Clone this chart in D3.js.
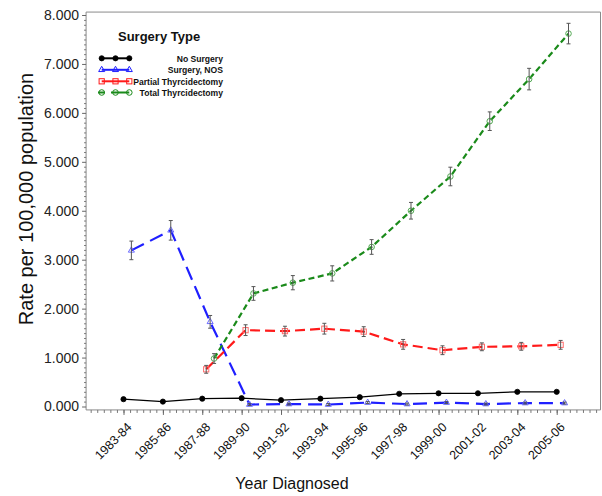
<!DOCTYPE html>
<html><head><meta charset="utf-8">
<script src="https://cdn.jsdelivr.net/npm/d3@7"></script>
<style>body{margin:0;background:#fff}svg{display:block;font-family:"Liberation Sans",Arial,sans-serif}</style>
</head><body><svg id="c" width="602" height="496"></svg>
<script>
const categories = ["1983-84","1985-86","1987-88","1989-90","1991-92","1993-94","1995-96","1997-98","1999-00","2001-02","2003-04","2005-06"];
const startYears = [1983,1985,1987,1989,1991,1993,1995,1997,1999,2001,2003,2005];
const yTicks = [0,1,2,3,4,5,6,7,8];
const seriesNames = ["No Surgery","Surgery, NOS","Partial Thyrcidectomy","Total Thyrcidectomy"];
const noSurgery   = [0.15,0.10,0.16,0.17,0.13,0.16,0.19,0.26,0.27,0.27,0.30,0.30];
const surgeryNOS  = [3.19,3.60,1.73,0.04,0.05,0.04,0.08,0.05,0.08,0.05,0.07,0.07];
const partialThy  = [null,null,0.76,1.56,1.54,1.59,1.53,1.27,1.15,1.22,1.23,1.26];
const totalThy    = [null,null,0.98,2.31,2.53,2.72,3.26,4.00,4.70,5.83,6.69,7.62];
const noSurgeryErr  = [0,0,0,0,0,0,0,0,0,0,0,0];
const surgeryNOSErr = [0.19,0.20,0.13,0.02,0.02,0.02,0.02,0.02,0.02,0.02,0.02,0.02];
const partialThyErr = [null,null,0.08,0.11,0.10,0.11,0.10,0.10,0.09,0.08,0.08,0.09];
const totalThyErr   = [null,null,0.10,0.14,0.145,0.155,0.15,0.17,0.19,0.19,0.22,0.21];

const svg = d3.select("#c");
const x = d3.scaleLinear().domain([1983,2005]).range([123.5,556.7]);
const y = d3.scaleLinear().domain([0,8]).range([406.5,15]);
const fLeft = x(1981.1), fRight = 600.5, fTop = y(8.06), fBottom = y(-0.07);

// frame
const frameCol = "#8a8a8a";
svg.append("line").attr("x1",fLeft).attr("x2",fRight).attr("y1",fTop).attr("y2",fTop).attr("stroke",frameCol);
svg.append("line").attr("x1",fRight).attr("x2",fRight).attr("y1",fTop).attr("y2",fBottom).attr("stroke",frameCol);
svg.append("line").attr("x1",fLeft).attr("x2",fLeft).attr("y1",fTop).attr("y2",fBottom).attr("stroke",frameCol);
svg.append("line").attr("x1",fLeft).attr("x2",fRight).attr("y1",fBottom).attr("y2",fBottom).attr("stroke",frameCol);

// y axis
const yMinor = d3.range(0, 81).map(d=>d/10).filter((d,i)=>i%10!==0);
const gyMinor = svg.append("g").attr("transform",`translate(${fLeft},0)`)
  .call(d3.axisLeft(y).tickValues(yMinor).tickSize(2).tickFormat(""));
gyMinor.select(".domain").remove();
gyMinor.selectAll("line").attr("stroke","#777");
const gy = svg.append("g").attr("transform",`translate(${fLeft},0)`)
  .call(d3.axisLeft(y).tickValues(yTicks).tickSize(4).tickPadding(3).tickFormat(d3.format(".3f")));
gy.select(".domain").remove();
gy.attr("font-size",null).attr("font-family",null);
gy.selectAll("line").attr("stroke","#666");
gy.selectAll("text").style("font-size","14px").attr("fill","#222").style("font-family","'Liberation Sans', Arial, sans-serif");

// x axis
const xMinor = d3.range(0, 80).map(k=>1981+k/3).filter(d=>x(d)>fLeft+1 && x(d)<fRight-1);
const gxMinor = svg.append("g").attr("transform",`translate(0,${fBottom})`)
  .call(d3.axisBottom(x).tickValues(xMinor).tickSize(3).tickFormat(""));
gxMinor.select(".domain").remove();
gxMinor.selectAll("line").attr("stroke","#777");
const gx = svg.append("g").attr("transform",`translate(0,${fBottom})`)
  .call(d3.axisBottom(x).tickValues(startYears).tickSize(5).tickFormat((d,i)=>categories[i]));
gx.select(".domain").remove();
gx.attr("font-size",null).attr("font-family",null);
gx.selectAll("line").attr("stroke","#666");
gx.selectAll("text").style("font-size","12.5px").attr("fill","#111")
  .style("font-family","'Liberation Sans', Arial, sans-serif")
  .attr("text-anchor","end").attr("dy",null).attr("y",null).attr("x",null)
  .attr("transform","translate(8.5,18) rotate(-45)");

// axis titles
svg.append("text").attr("x",292).attr("y",489).attr("text-anchor","middle")
  .style("font-size","16px").attr("fill","#111").text("Year Diagnosed");
svg.append("text").attr("transform","translate(33,199) rotate(-90)").attr("text-anchor","middle")
  .style("font-size","20px").attr("fill","#111").text("Rate per 100,000 population");

// series
const series = [
  {name:seriesNames[0], vals:noSurgery, err:noSurgeryErr, off:0, color:"#000", dash:null, w:1.3, marker:"dot", mfill:"#000", mstroke:"#000"},
  {name:seriesNames[1], vals:surgeryNOS, err:surgeryNOSErr, off:0.4, color:"#1f1fff", dash:"14,7", w:2.2, marker:"tri", mfill:"none", mstroke:"#6a6aff"},
  {name:seriesNames[2], vals:partialThy, err:partialThyErr, off:0.2, color:"#ff1a1a", dash:"10,5", w:2.2, marker:"sq", mfill:"none", mstroke:"#ff6a6a"},
  {name:seriesNames[3], vals:totalThy, err:totalThyErr, off:0.6, color:"#1a8a1a", dash:"6,3.5", w:2.2, marker:"circ", mfill:"none", mstroke:"#55aa55"}
];

function drawMarker(g, type, cx, cy, s) {
  if (type==="dot") g.append("circle").attr("cx",cx).attr("cy",cy).attr("r",2.6).attr("fill",s.mfill).attr("stroke",s.mstroke).attr("stroke-width",0.8);
  else if (type==="tri") g.append("path").attr("d",d3.symbol(d3.symbolTriangle,16)()).attr("transform",`translate(${cx},${cy})`).attr("fill","none").attr("stroke",s.mstroke).attr("stroke-width",1);
  else if (type==="sq") g.append("rect").attr("x",cx-2.6).attr("y",cy-2.6).attr("width",5.2).attr("height",5.2).attr("fill","none").attr("stroke",s.mstroke).attr("stroke-width",1);
  else g.append("circle").attr("cx",cx).attr("cy",cy).attr("r",2.8).attr("fill","none").attr("stroke",s.mstroke).attr("stroke-width",1);
}

const plot = svg.append("g");
series.forEach(s=>{
  const pts = s.vals.map((v,i)=>({x:startYears[i]+s.off, v, e:s.err[i]}));
  const line = d3.line().defined(d=>d.v!=null).x(d=>x(d.x)).y(d=>y(d.v));
  plot.append("path").datum(pts).attr("d",line).attr("fill","none").attr("stroke",s.color)
    .attr("stroke-width",s.w).attr("stroke-dasharray",s.dash);
  const mg = plot.append("g");
  pts.filter(d=>d.v!=null).forEach(d=>drawMarker(mg, s.marker, x(d.x), y(d.v), s));
  const eg = plot.append("g").attr("stroke","#555").attr("stroke-width",1);
  pts.filter(d=>d.v!=null && d.e>0).forEach(d=>{
    const cx = x(d.x), y1 = y(d.v+d.e), y2 = y(d.v-d.e);
    eg.append("line").attr("x1",cx).attr("x2",cx).attr("y1",y1).attr("y2",y2);
    eg.append("line").attr("x1",cx-2).attr("x2",cx+2).attr("y1",y1).attr("y2",y1);
    eg.append("line").attr("x1",cx-2).attr("x2",cx+2).attr("y1",y2).attr("y2",y2);
  });
});

// legend
const lg = svg.append("g");
lg.append("text").attr("x",118).attr("y",41).style("font-size","13px").attr("font-weight","bold").attr("fill","#111").text("Surgery Type");
const rowY = [58.3,69.8,81.3,92.5];
series.forEach((s,i)=>{
  const cy = rowY[i];
  lg.append("line").attr("x1", i===3 ? 98 : 101.7).attr("x2",129.3).attr("y1",cy).attr("y2",cy)
    .attr("stroke",s.color).attr("stroke-width",2).attr("stroke-dasharray", i===3 ? "7,6,20" : null);
  [101.7,115.5,129.3].forEach(mx=>{
    const ms = Object.assign({}, s);
    if (s.marker!=="dot") ms.mstroke = s.color;
    drawMarker(lg, s.marker, mx, cy, ms);
  });
  lg.append("text").attr("x",223).attr("y",cy+3.2).attr("text-anchor","end")
    .style("font-size","8.6px").attr("font-weight","bold").attr("fill","#111").text(s.name);
});
</script></body></html>
